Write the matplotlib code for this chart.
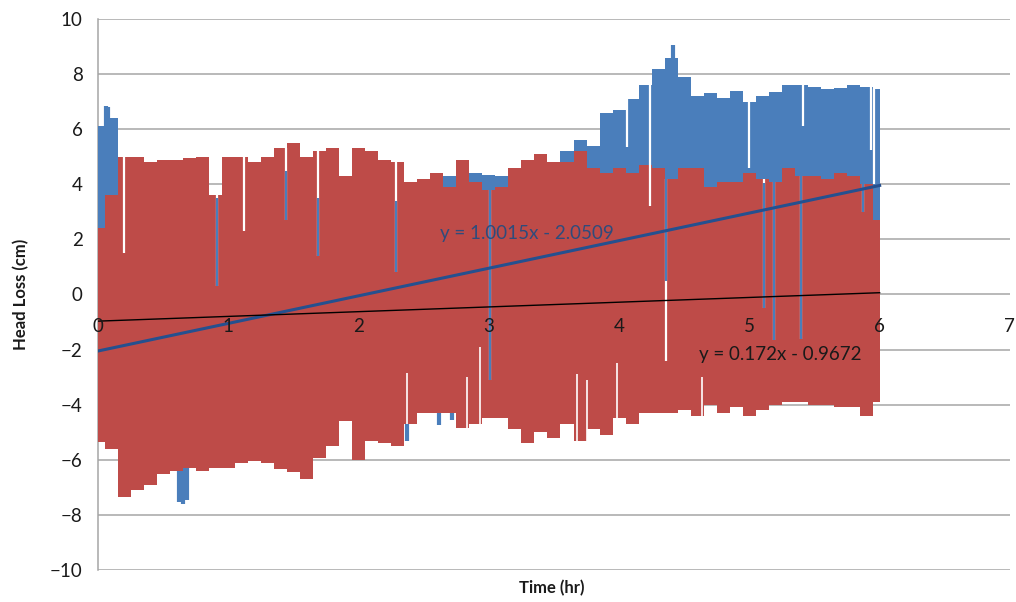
import numpy as np
import matplotlib
matplotlib.use("Agg")
import matplotlib.pyplot as plt

plt.rcParams['font.family'] = ['Lato', 'DejaVu Sans']

# sample times (hr) for the envelopes
time_hr = [0.0, 0.1, 0.2, 0.3, 0.4, 0.5, 0.6, 0.7, 0.8, 0.9,
           1.0, 1.1, 1.2, 1.3, 1.4, 1.5, 1.6, 1.7, 1.8, 1.9,
           2.0, 2.1, 2.2, 2.3, 2.4, 2.5, 2.6, 2.7, 2.8, 2.9,
           3.0, 3.1, 3.2, 3.3, 3.4, 3.5, 3.6, 3.7, 3.8, 3.9,
           4.0, 4.1, 4.2, 4.3, 4.4, 4.5, 4.6, 4.7, 4.8, 4.9,
           5.0, 5.1, 5.2, 5.3, 5.4, 5.5, 5.6, 5.7, 5.8, 5.9, 6.0]

# series 1 (blue) upper / lower envelope
blue_hi = [6.1, 6.4, 4.6, 4.7, 4.6, 4.5, 4.6, 4.6, 4.6, 3.5,
           4.6, 4.6, 4.5, 4.7, 4.5, 4.8, 4.5, 4.6, 4.5, 4.0,
           4.6, 4.6, 4.3, 4.2, 3.9, 4.0, 4.1, 4.3, 4.4, 4.4,
           4.35, 4.3, 4.5, 4.6, 4.9, 4.8, 5.2, 5.6, 5.4, 6.6,
           6.7, 7.1, 7.6, 8.2, 8.6, 7.9, 7.2, 7.3, 7.15, 7.4,
           7.0, 7.2, 7.35, 7.6, 7.6, 7.55, 7.45, 7.5, 7.6, 7.55, 7.45]
blue_lo = [-5.2, -5.4, -7.2, -6.9, -6.7, -6.3, -6.2, -6.1, -6.2, -6.1,
           -6.1, -5.9, -5.85, -5.9, -6.1, -6.2, -6.5, -5.7, -5.3, -4.5,
           -5.8, -5.1, -5.2, -5.3, -4.5, -4.1, -4.1, -4.1, -4.6, -4.5,
           -4.3, -4.3, -4.7, -5.2, -4.8, -5.0, -4.5, -5.1, -4.7, -4.9,
           -4.3, -4.5, -4.1, -4.1, -4.1, -4.0, -4.2, -3.8, -4.1, -3.9,
           -4.2, -4.0, -3.8, -3.7, -3.7, -3.8, -3.8, -3.9, -3.9, -4.2, -3.7]

# series 2 (red) upper / lower envelope
red_hi = [2.4, 3.6, 5.0, 5.0, 4.8, 4.9, 4.9, 4.95, 5.0, 3.6,
          5.0, 5.0, 4.8, 5.0, 5.3, 5.5, 5.0, 5.2, 5.3, 4.3,
          5.3, 5.2, 4.9, 4.8, 4.1, 4.2, 4.4, 3.9, 4.9, 4.1,
          3.8, 3.9, 4.6, 4.9, 5.1, 4.8, 4.8, 5.2, 4.6, 4.4,
          4.6, 4.4, 4.7, 4.6, 4.2, 4.6, 4.6, 3.9, 4.1, 4.1,
          4.4, 4.2, 4.1, 4.6, 4.3, 4.3, 4.2, 4.4, 4.3, 4.0, 2.7]
red_lo = [-5.35, -5.6, -7.35, -7.1, -6.9, -6.5, -6.4, -6.3, -6.4, -6.3,
          -6.3, -6.1, -6.05, -6.1, -6.35, -6.45, -6.7, -5.95, -5.5, -4.6,
          -6.0, -5.3, -5.4, -5.5, -4.7, -4.3, -4.3, -4.3, -4.85, -4.7,
          -4.5, -4.5, -4.9, -5.4, -5.0, -5.2, -4.7, -5.3, -4.9, -5.1,
          -4.5, -4.7, -4.3, -4.3, -4.3, -4.2, -4.4, -4.0, -4.3, -4.1,
          -4.4, -4.2, -4.0, -3.9, -3.9, -4.0, -4.0, -4.1, -4.1, -4.4, -3.9]

# narrow blue peaks above / below its envelope
blue_peak_t = [0.06, 0.08, 4.41]
blue_peak_y = [6.85, 6.8, 9.05]
blue_dip_t = [0.62, 0.65, 0.68, 2.37, 2.62, 2.72, 2.79]
blue_dip_y = [-7.55, -7.6, -7.45, -5.3, -4.75, -4.55, -4.5]

# narrow drops in the red trace (bottom of the drop, blue seen inside it)
red_gap_t = [0.20, 0.91, 1.12, 1.44, 1.69, 2.29, 3.01, 4.24, 4.36, 5.11, 5.19, 5.40, 5.87]
red_gap_y = [1.5, 0.3, 2.3, 2.7, 1.4, 0.8, -3.1, 3.2, -2.4, -0.5, -1.65, -1.6, 3.0]
gap_blue_top = [np.nan, 3.5, np.nan, 4.5, 3.5, 3.4, 4.3, np.nan, 8.5, 4.05, 4.1, 4.3, 7.5]
gap_blue_bot = [np.nan, 0.3, np.nan, 2.7, 1.4, 0.8, -3.1, np.nan, 0.5, -0.5, -1.65, -1.6, 3.0]

# narrow drops in the blue trace above the red one
blue_gap_t = [4.06, 4.24, 5.00, 5.41, 5.93, 5.96]
blue_gap_y = [5.35, 3.2, 4.6, 6.1, 5.25, 4.0]

# narrow rises of the red lower edge
red_lo_gap_t = [2.37, 2.83, 2.93, 3.68, 3.75, 3.98, 4.64]
red_lo_gap_y = [-2.85, -3.0, -1.9, -2.9, -3.1, -2.5, -3.0]

# linear trendlines (slope, intercept)
trend_slope = [1.0015, 0.172]
trend_icpt = [-2.0509, -0.9672]

BLUE = '#4A7EBB'
RED = '#BE4B48'

t = np.array(time_hr)
bh = np.array(blue_hi)
rh = np.array(red_hi)
rl = np.array(red_lo)

def near(x):
    return int(np.abs(t - x).argmin())

fig = plt.figure(figsize=(10.16, 6.02), dpi=100)
ax = fig.add_axes([0.0965, 0.0532, 0.8975, 0.9152])

ax.fill_between(t, blue_lo, blue_hi, step='mid', color=BLUE, lw=0, zorder=1)
ax.vlines(blue_peak_t, 0, blue_peak_y, color=BLUE, lw=3, zorder=1)
ax.vlines(blue_dip_t, 0, blue_dip_y, color=BLUE, lw=3, zorder=1)

ax.fill_between(t, red_lo, red_hi, step='mid', color=RED, lw=0, zorder=2)

# blue drops (white above the red)
for gt, gy in zip(blue_gap_t, blue_gap_y):
    i = near(gt)
    ax.vlines(gt, max(gy, rh[i]), bh[i], color='white', lw=1.6, zorder=3)

# red drops
for gt, gy, btop, bbot in zip(red_gap_t, red_gap_y, gap_blue_top, gap_blue_bot):
    i = near(gt)
    ax.vlines(gt, gy, rh[i], color='white', lw=1.6, zorder=3)
    if not np.isnan(btop):
        ax.vlines(gt, bbot, min(btop, rh[i]), color=BLUE, lw=1.6, zorder=3.1)

for gt, gy in zip(red_lo_gap_t, red_lo_gap_y):
    i = near(gt)
    ax.vlines(gt, rl[i], gy, color='white', lw=1.2, zorder=3)

# trendlines
tx = np.array([0.0, 6.0])
ax.plot(tx, trend_slope[0] * tx + trend_icpt[0], color='#25508F', lw=2.2, zorder=4)
ax.plot(tx, trend_slope[1] * tx + trend_icpt[1], color='black', lw=1.0, zorder=4)

ax.text(3.29, 2.23, f"y = {trend_slope[0]}x - {abs(trend_icpt[0])}", color='#2F4B7C',
        fontsize=13.5, ha='center', va='center', zorder=5)
ax.text(5.24, -2.16, f"y = {trend_slope[1]}x - {abs(trend_icpt[1])}", color='#1a1a1a',
        fontsize=13.5, ha='center', va='center', zorder=5)

ax.set_xlim(0, 7)
ax.set_ylim(-10, 10)
ax.set_yticks(np.arange(-10, 11, 2))
ax.set_xticks(np.arange(0, 8, 1))
ax.grid(axis='y', color='#A5A5A5', lw=1.1)
ax.set_axisbelow(True)
ax.xaxis.set_zorder(6)

for s in ['top', 'right']:
    ax.spines[s].set_visible(False)
ax.spines['bottom'].set_position(('data', 0))
ax.spines['bottom'].set_visible(False)
ax.spines['left'].set_color('#A5A5A5')
ax.spines['left'].set_linewidth(1.1)
ax.spines['left'].set_zorder(0.6)

ax.tick_params(axis='y', length=0, pad=11, labelsize=13.5, labelcolor='#1a1a1a')
ax.tick_params(axis='x', length=0, pad=17, labelsize=13.5, labelcolor='#1a1a1a')

ax.set_ylabel('Head Loss (cm)', fontsize=12, fontweight='bold', color='#1a1a1a')
ax.yaxis.set_label_coords(-0.0755, 0.5)
ax.set_xlabel('Time (hr)', fontsize=12, fontweight='bold', color='#1a1a1a')
ax.xaxis.set_label_coords(0.498, -0.019)

fig.savefig('out.png', dpi=100)
